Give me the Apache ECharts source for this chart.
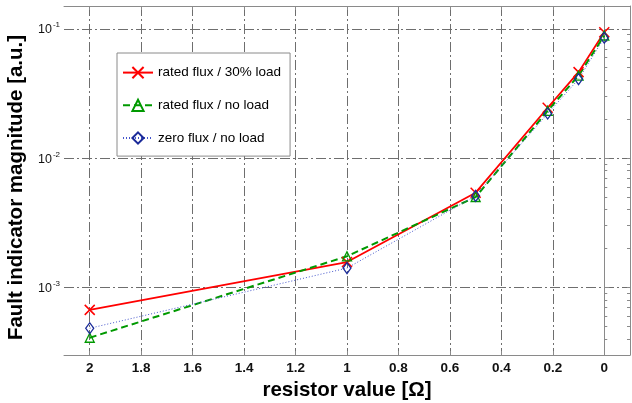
<!DOCTYPE html>
<html>
<head>
<meta charset="utf-8">
<script src="https://cdn.jsdelivr.net/npm/echarts@6/dist/echarts.min.js"></script>
<style>
html,body{margin:0;padding:0;background:#fff;}
#chart{width:632px;height:403px;}
</style>
</head>
<body>
<div id="chart"></div>
<script>
// ---- data ----
const xValues = [2, 1, 0.5, 0.22, 0.1, 0];
const ratedFlux30Load = [6.7e-4, 1.57e-3, 5.4e-3, 0.0245, 0.0462, 0.094];
const ratedFluxNoLoad = [4.08e-4, 1.74e-3, 5.0e-3, 0.0232, 0.0434, 0.0887];
const zeroFluxNoLoad = [4.83e-4, 1.41e-3, 5.1e-3, 0.0221, 0.0408, 0.0852];
const seriesNames = ['rated flux / 30% load', 'rated flux / no load', 'zero flux / no load'];
const xTicks = [0, 0.2, 0.4, 0.6, 0.8, 1, 1.2, 1.4, 1.6, 1.8, 2];
const yMajorTicks = [1e-3, 1e-2, 1e-1];
const yMinorTicks = [4e-4, 5e-4, 6e-4, 7e-4, 8e-4, 9e-4,
  2e-3, 3e-3, 4e-3, 5e-3, 6e-3, 7e-3, 8e-3, 9e-3,
  2e-2, 3e-2, 4e-2, 5e-2, 6e-2, 7e-2, 8e-2, 9e-2];
const xLabelFmt = v => String(+v.toFixed(1));

const FONT = 'Liberation Sans, Arial, sans-serif';
const boxColor = '#8a8a8a';
const gridColor = '#6e6e6e';
const dashDot = [10, 3, 2, 3];

const pairs = arr => xValues.map((x, i) => [x, arr[i]]);

const chart = echarts.init(document.getElementById('chart'), null, {renderer: 'canvas'});

const xCommon = {
  type: 'value', min: -0.1, max: 2.1, inverse: true,
  axisLine: {show: true, lineStyle: {color: boxColor, width: 1}},
  axisTick: {show: true, inside: true, length: 4, customValues: xTicks, lineStyle: {color: boxColor}},
};
const yCommon = {
  type: 'log', logBase: 10, min: 3e-4, max: 0.15,
};

chart.setOption({
  animation: false,
  backgroundColor: '#fff',
  grid: {left: 64, right: 2, top: 6, bottom: 48, containLabel: false, outerBoundsMode: 'none'},
  legend: {
    left: 117, top: 53, orient: 'vertical',
    itemWidth: 30, itemHeight: 14, itemGap: 16.5,
    padding: [11.5, 9, 10, 5],
    borderColor: boxColor, borderWidth: 1, backgroundColor: '#fff',
    textStyle: {fontSize: 13.5, fontFamily: FONT, color: '#000'},
    data: seriesNames
  },
  xAxis: [
    Object.assign({}, xCommon, {
      position: 'bottom',
      name: 'resistor value [Ω]', nameLocation: 'middle', nameGap: 19,
      nameTextStyle: {fontSize: 20.5, fontWeight: 'bold', fontFamily: FONT, color: '#000'},
      axisLabel: {show: true, customValues: xTicks, formatter: xLabelFmt, margin: 6,
        fontSize: 13.5, fontWeight: 'bold', fontFamily: FONT, color: '#111'},
      splitLine: {show: true, lineStyle: {color: gridColor, width: 1, type: dashDot}}
    }),
    Object.assign({}, xCommon, {
      position: 'top',
      axisLabel: {show: false},
      splitLine: {show: false}
    })
  ],
  yAxis: [
    Object.assign({}, yCommon, {
      position: 'left',
      name: 'Fault indicator magnitude [a.u.]', nameLocation: 'middle', nameGap: 34,
      nameRotate: 90,
      nameTextStyle: {fontSize: 20.5, fontWeight: 'bold', fontFamily: FONT, color: '#000', padding: [0, 14, 0, 0]},
      axisLine: {show: true, lineStyle: {color: boxColor, width: 1}},
      axisTick: {show: true, inside: true, length: 5, customValues: yMajorTicks, lineStyle: {color: boxColor}},
      axisLabel: {
        show: true, customValues: yMajorTicks, margin: 4,
        formatter: v => '{b|10}{e|' + Math.round(Math.log10(v)) + '}',
        rich: {
          b: {fontSize: 12.5, fontFamily: FONT, color: '#111', verticalAlign: 'bottom'},
          e: {fontSize: 8, fontFamily: FONT, color: '#111', verticalAlign: 'bottom', padding: [0, 0, 7, 1]}
        }
      },
      splitLine: {show: true, lineStyle: {color: gridColor, width: 1, type: dashDot}}
    }),
    Object.assign({}, yCommon, {
      position: 'left',
      axisLine: {show: false},
      axisTick: {show: true, inside: true, length: 3, customValues: yMinorTicks, lineStyle: {color: boxColor}},
      axisLabel: {show: false},
      splitLine: {show: false}
    }),
    Object.assign({}, yCommon, {
      position: 'right',
      axisLine: {show: true, lineStyle: {color: boxColor, width: 1}},
      axisTick: {show: true, inside: true, length: 3, customValues: yMajorTicks.concat(yMinorTicks), lineStyle: {color: boxColor}},
      axisLabel: {show: false},
      splitLine: {show: false}
    })
  ],
  series: [
    {
      name: seriesNames[0], type: 'line', xAxisIndex: 0, yAxisIndex: 0,
      data: pairs(ratedFlux30Load),
      symbol: 'path://M0,0L10,10M10,0L0,10', symbolSize: 10,
      lineStyle: {color: '#ff0000', width: 1.8, type: 'solid'},
      itemStyle: {color: 'none', borderColor: '#ff0000', borderWidth: 1.5},
      emphasis: {disabled: true}
    },
    {
      name: seriesNames[1], type: 'line', xAxisIndex: 0, yAxisIndex: 0,
      data: pairs(ratedFluxNoLoad),
      symbol: 'triangle', symbolSize: 9,
      lineStyle: {color: '#009900', width: 2, type: [7, 4]},
      itemStyle: {color: 'none', borderColor: '#009900', borderWidth: 1.3},
      emphasis: {disabled: true}
    },
    {
      name: seriesNames[2], type: 'line', xAxisIndex: 0, yAxisIndex: 0,
      data: pairs(zeroFluxNoLoad),
      symbol: 'diamond', symbolSize: [8, 11],
      lineStyle: {color: '#4455cc', width: 1, type: [1, 2]},
      itemStyle: {color: 'none', borderColor: '#1a2a99', borderWidth: 1.3},
      emphasis: {disabled: true}
    }
  ]
});
</script>
</body>
</html>
